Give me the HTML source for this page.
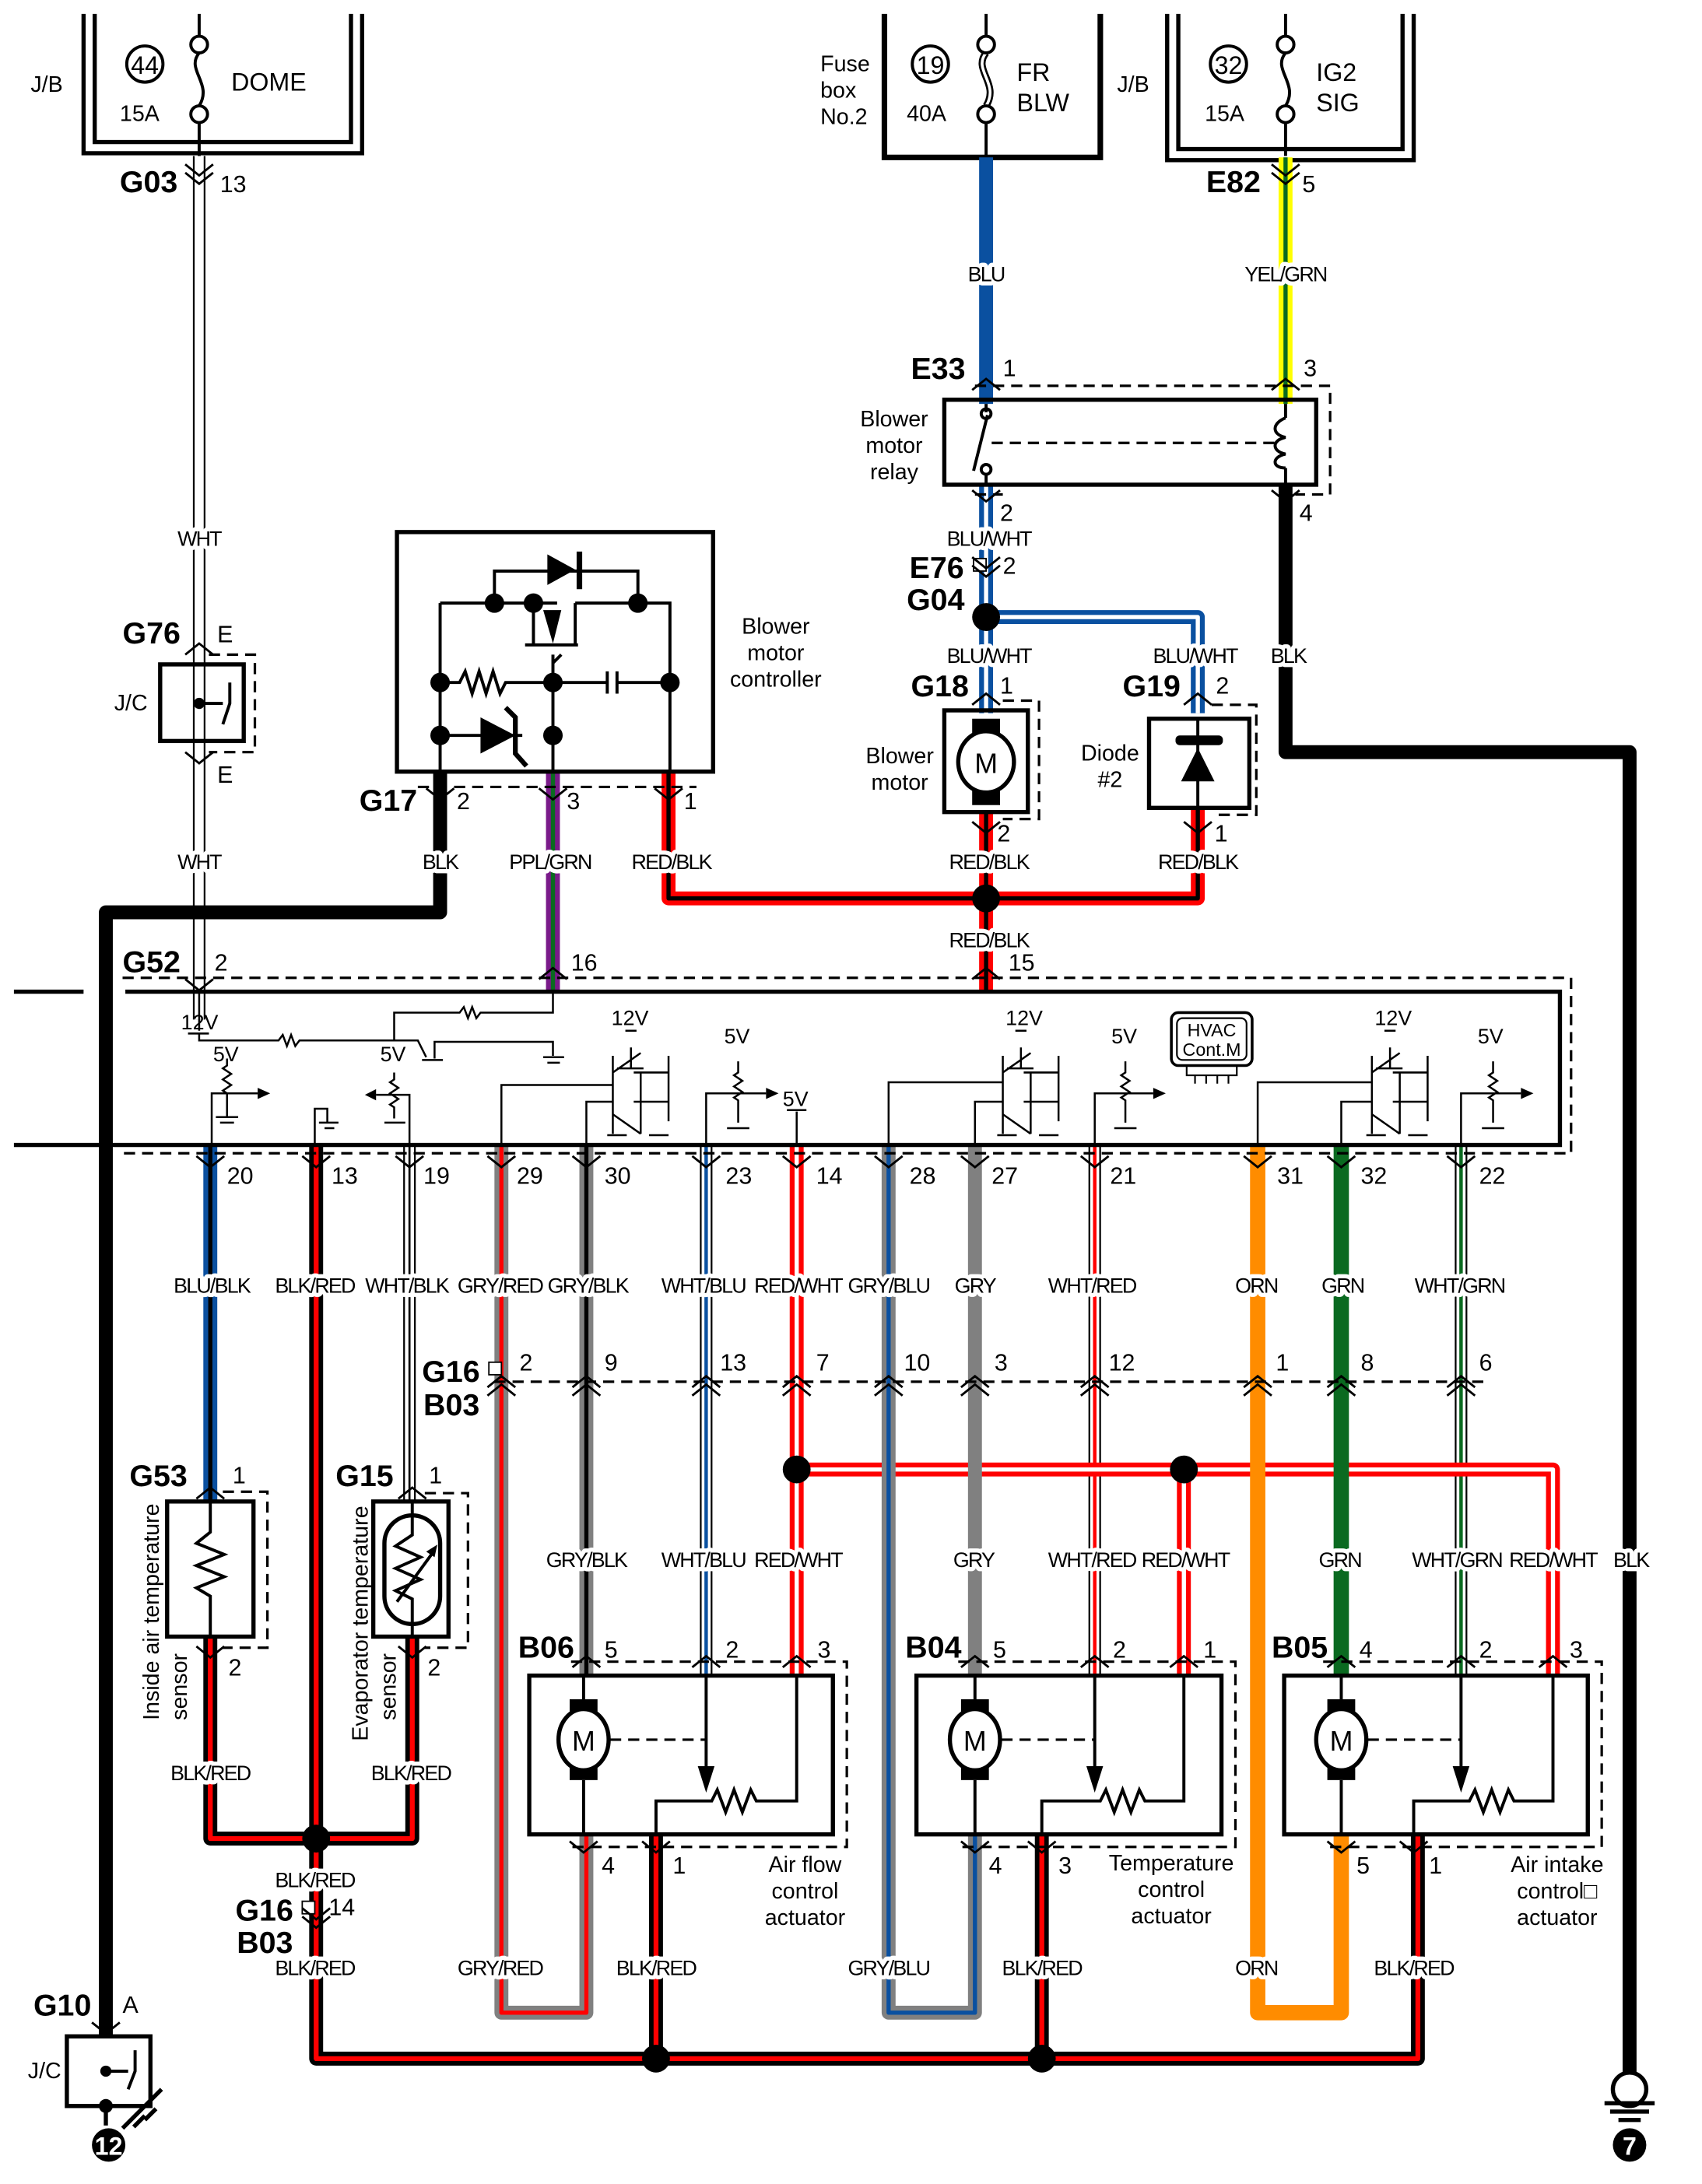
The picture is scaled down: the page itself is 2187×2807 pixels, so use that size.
<!DOCTYPE html>
<html><head><meta charset="utf-8"><style>
html,body{margin:0;padding:0;background:#fff}
svg{display:block}
text{font-family:"Liberation Sans Narrow","Liberation Sans",sans-serif;fill:#000}
.l{font-size:15px;letter-spacing:-1px;text-anchor:middle;paint-order:stroke;stroke:#fff;stroke-width:6px;stroke-linejoin:round}
.n{font-size:17px}
.b{font-family:"Liberation Sans",sans-serif;font-weight:bold;font-size:22px}
.s{font-family:"Liberation Sans",sans-serif;font-size:16px}
.k{fill:none;stroke:#000;stroke-width:2.2}
.d{fill:none;stroke:#000;stroke-width:1.8;stroke-dasharray:8 5}
.box{fill:none;stroke:#000;stroke-width:3}
</style></head><body>
<svg width="2187" height="2807" viewBox="0 0 1222 1568" preserveAspectRatio="none" xmlns="http://www.w3.org/2000/svg">
<rect width="1222" height="1568" fill="#fff"/>

<path class="box" d="M60 10V110H260V10M68 10V102H252V10"/>
<path class="box" d="M635 10V113H790V10" style="stroke-width:4"/>
<path class="box" d="M838 10V115H1015V10M846 10V107H1007V10"/>
<text class="s" x="22" y="66">J/B</text>
<circle cx="104" cy="46" r="13" class="k"/><text class="s" x="104" y="53" text-anchor="middle" style="font-size:18px">44</text>
<text class="s" x="86" y="87">15A</text><text class="s" x="166" y="65" style="font-size:18px">DOME</text>
<path class="k" d="M143 10V26M143 38C133 50 153 60 143 76M143 88V115"/><circle cx="143" cy="32" r="6" class="k"/><circle cx="143" cy="82" r="6" class="k"/>
<text class="s" x="589" y="51">Fuse</text><text class="s" x="589" y="70">box</text><text class="s" x="589" y="89">No.2</text>
<circle cx="668" cy="46" r="13" class="k"/><text class="s" x="668" y="53" text-anchor="middle" style="font-size:18px">19</text>
<text class="s" x="651" y="87">40A</text><text class="s" x="730" y="58" style="font-size:18px">FR</text><text class="s" x="730" y="80" style="font-size:18px">BLW</text>
<path class="k" d="M708 10V26M708 88V115"/><path d="M708 38C698 50 718 60 708 76" fill="none" stroke="#000" stroke-width="5"/><path d="M708 38C698 50 718 60 708 76" fill="none" stroke="#fff" stroke-width="2"/>
<circle cx="708" cy="32" r="6" class="k" fill="#fff"/><circle cx="708" cy="82" r="6" class="k" fill="#fff"/>
<text class="s" x="802" y="66">J/B</text>
<circle cx="882" cy="46" r="13" class="k"/><text class="s" x="882" y="53" text-anchor="middle" style="font-size:18px">32</text>
<text class="s" x="865" y="87">15A</text><text class="s" x="945" y="58" style="font-size:18px">IG2</text><text class="s" x="945" y="80" style="font-size:18px">SIG</text>
<path class="k" d="M923 10V26M923 38C913 50 933 60 923 76M923 88V112"/><circle cx="923" cy="32" r="6" class="k"/><circle cx="923" cy="82" r="6" class="k"/>

<g fill="none" stroke-linejoin="round">
<path d="M143 112V732" stroke="#000" stroke-width="9"/><path d="M143 112V732" stroke="#fff" stroke-width="6.5"/>
<path d="M708 113V290" stroke="#0a50a0" stroke-width="10"/>
<path d="M923 113V290" stroke="#ffff00" stroke-width="10"/><path d="M923 113V290" stroke="#0a6a20" stroke-width="3"/>
<path d="M923 348V540H1170V1495" stroke="#000" stroke-width="10"/>
<path d="M708 348V512M708 443H860V512" stroke="#0a50a0" stroke-width="10"/><path d="M708 348V512M708 443H860V512" stroke="#fff" stroke-width="3"/>
<path d="M708 583V712M860 580V645H480V555" stroke="#f00" stroke-width="10"/><path d="M708 583V712M860 580V645H480V555" stroke="#000" stroke-width="3"/>
<path d="M316 555V655H76V1462" stroke="#000" stroke-width="10"/>
<path d="M397 555V712" stroke="#7a1a8a" stroke-width="10"/><path d="M397 555V712" stroke="#0a6a20" stroke-width="3"/>

<path d="M151 822V1078" stroke="#0a50a0" stroke-width="10"/><path d="M151 822V1078" stroke="#000" stroke-width="3"/>
<path d="M151 1175V1320H296V1175M227 822V1478H1018V1317M471 1317V1478M748 1317V1478" stroke="#000" stroke-width="10"/>
<path d="M151 1175V1320H296V1175M227 822V1478H1018V1317M471 1317V1478M748 1317V1478" stroke="#f00" stroke-width="3.5"/>
<path d="M294 822V1078" stroke="#000" stroke-width="9"/><path d="M294 822V1078" stroke="#fff" stroke-width="6.5"/><path d="M294 822V1078" stroke="#000" stroke-width="1.5"/>
<path d="M360 822V1445H421V1317" stroke="#808080" stroke-width="10"/><path d="M360 822V1445H421V1317" stroke="#f00" stroke-width="3"/>
<path d="M421 822V1203" stroke="#808080" stroke-width="10"/><path d="M421 822V1203" stroke="#000" stroke-width="3"/>
<path d="M507 822V1203M1049 822V1203M786 822V1203" stroke="#000" stroke-width="9"/><path d="M507 822V1203M1049 822V1203M786 822V1203" stroke="#fff" stroke-width="6.5"/>
<path d="M507 822V1203" stroke="#0a50a0" stroke-width="2.5"/><path d="M1049 822V1203" stroke="#0a6a20" stroke-width="2.5"/><path d="M786 822V1203" stroke="#f00" stroke-width="2.5"/>
<path d="M572 822V1203M572 1055H1115V1203M850 1055V1203" stroke="#f00" stroke-width="10"/><path d="M572 822V1203M572 1055H1115V1203M850 1055V1203" stroke="#fff" stroke-width="3"/>
<path d="M638 822V1445H700V1317" stroke="#808080" stroke-width="10"/><path d="M638 822V1445H700V1317" stroke="#0a50a0" stroke-width="3"/>
<path d="M700 822V1203" stroke="#808080" stroke-width="10"/>
<path d="M903 822V1445H963V1317" stroke="#ff8c00" stroke-width="11"/>
<path d="M963 822V1203" stroke="#0a6a20" stroke-width="11"/>
</g>

<g fill="#000">
<circle cx="708" cy="443" r="10"/><circle cx="708" cy="645" r="10"/>
<circle cx="572" cy="1055" r="10"/><circle cx="850" cy="1055" r="10"/>
<circle cx="227" cy="1320" r="10"/><circle cx="471" cy="1478" r="10"/><circle cx="748" cy="1478" r="10"/>
</g>

<text class="b" x="86" y="138">G03</text><text class="n" x="158" y="138">13</text>
<text class="b" x="866" y="138">E82</text><text class="n" x="935" y="138">5</text>
<text class="b" x="654" y="272">E33</text><text class="n" x="720" y="270">1</text><text class="n" x="936" y="270">3</text>
<path class="d" d="M700 277H955V355H930M700 355H720"/>
<rect x="678" y="287" width="267" height="61" class="box"/>
<text class="s" x="642" y="306" text-anchor="middle">Blower</text><text class="s" x="642" y="325" text-anchor="middle">motor</text><text class="s" x="642" y="344" text-anchor="middle">relay</text>
<path class="k" d="M708 290V296M708 340V348M709 298L699 338M923 290V300M923 336V348" />
<circle cx="708" cy="297" r="3.5" class="k" fill="#fff"/><circle cx="708" cy="337" r="3.5" class="k" fill="#fff"/>
<path class="d" d="M712 318H915"/><path class="k" d="M923 300C913 304 913 312 923 314C913 316 913 324 923 326C913 328 913 336 923 336" />
<text class="n" x="718" y="374">2</text><text class="n" x="933" y="374">4</text>
<text class="l" x="708" y="202">BLU</text><text class="l" x="923" y="202">YEL/GRN</text>
<text class="l" x="710" y="392">BLU/WHT</text>
<text class="b" x="653" y="415">E76</text><rect x="699" y="401" width="9" height="9" fill="#fff" stroke="#000"/><text class="n" x="720" y="412">2</text>
<text class="b" x="651" y="438">G04</text>
<text class="l" x="710" y="476">BLU/WHT</text><text class="l" x="858" y="476">BLU/WHT</text><text class="l" x="925" y="476">BLK</text>
<text class="b" x="654" y="500">G18</text><text class="n" x="718" y="498">1</text>
<text class="b" x="806" y="500">G19</text><text class="n" x="873" y="498">2</text>
<rect x="678" y="510" width="60" height="73" class="box"/><path class="d" d="M720 503H746V588H720"/>
<rect x="698" y="516" width="20" height="62" fill="#000"/><ellipse cx="708" cy="547" rx="20" ry="22" fill="#fff" stroke="#000" stroke-width="3"/>
<text class="s" x="708" y="555" text-anchor="middle" style="font-size:20px">M</text>
<text class="s" x="646" y="548" text-anchor="middle">Blower</text><text class="s" x="646" y="567" text-anchor="middle">motor</text>
<text class="n" x="716" y="604">2</text>
<rect x="825" y="516" width="72" height="64" class="box"/><path class="d" d="M870 506H902V585H870"/>
<path class="k" d="M860 516V580"/><rect x="844" y="528" width="34" height="7" rx="3" fill="#000"/><path d="M860 537L848 561H872Z" fill="#000"/>
<text class="s" x="797" y="546" text-anchor="middle">Diode</text><text class="s" x="797" y="565" text-anchor="middle">#2</text>
<text class="n" x="872" y="604">1</text>
<text class="l" x="710" y="624">RED/BLK</text><text class="l" x="860" y="624">RED/BLK</text>
<text class="l" x="710" y="680">RED/BLK</text>

<text class="b" x="88" y="462">G76</text><text class="n" x="156" y="461">E</text>
<rect x="115" y="477" width="60" height="55" class="box"/><path class="d" d="M150 470H183V540H150"/>
<circle cx="143" cy="505" r="4"/><path class="k" d="M143 505H160M165 490V505L160 520"/>
<text class="s" x="82" y="510">J/C</text><text class="n" x="156" y="562">E</text>
<text class="l" x="143" y="392">WHT</text><text class="l" x="143" y="624">WHT</text>

<rect x="285" y="382" width="227" height="172" class="box"/>
<text class="s" x="557" y="455" text-anchor="middle">Blower</text><text class="s" x="557" y="474" text-anchor="middle">motor</text><text class="s" x="557" y="493" text-anchor="middle">controller</text>
<g class="k">
<path d="M355 433V410H458V433M316 433H400M413 433H481V554M316 433V554M316 490H330l4-8 5 16 5-16 5 16 5-16 5 16 4-8H397M397 476V490H436M443 490H481M436 482V498M443 482V498M397 490V554M316 528H375M377 463H415M383 433V463M413 433V463M397 470V476L403 470"/>
</g>
<path d="M393 398V420L413 409Z" fill="#000"/><rect x="414" y="396" width="4" height="27" fill="#000"/>
<path d="M390 438L403 438L397 462Z" fill="#000"/>
<path d="M345 515V541L370 528Z" fill="#000"/><path d="M363 508L370 515V541L378 550" stroke="#000" stroke-width="3.5" fill="none"/>
<g fill="#000"><circle cx="355" cy="433" r="7"/><circle cx="383" cy="433" r="7"/><circle cx="458" cy="433" r="7"/><circle cx="316" cy="490" r="7"/><circle cx="397" cy="490" r="7"/><circle cx="481" cy="490" r="7"/><circle cx="316" cy="528" r="7"/><circle cx="397" cy="528" r="7"/></g>
<path class="d" d="M300 565H500"/>
<text class="b" x="258" y="582">G17</text><text class="n" x="328" y="581">2</text><text class="n" x="407" y="581">3</text><text class="n" x="491" y="581">1</text>
<text class="l" x="316" y="624">BLK</text><text class="l" x="395" y="624">PPL/GRN</text><text class="l" x="482" y="624">RED/BLK</text>

<text class="b" x="88" y="698">G52</text><text class="n" x="154" y="697">2</text><text class="n" x="410" y="697">16</text><text class="n" x="724" y="697">15</text>
<path class="d" d="M88 702H1128V828H88"/>
<path d="M10 712H60M90 712H1120V822H10" fill="none" stroke="#000" stroke-width="3"/>
<text class="n" x="130" y="739" style="font-size:15px">12V</text>
<g class="k" style="stroke-width:1.4">
<path d="M143 712V740M135 742H150M143 742V747H200l3-4 3 8 3-8 3 8 3-4H283V727H330l3-4 3 8 3-8 3 8 3-4H397V712M283 747H300l6 12M312 760V748H397V758M303 761H318M390 759H405M393 763H402"/>
<path d="M163 760V765l-3 2 6 4-6 4 6 4-6 4 3 2V790M163 790V802M155 802H171M158 806H168M163 785H185M152 822V785H163"/>
<path d="M226 822V796H235V806M229 806H243M233 810H240"/>
<path d="M283 770V775l-3 2 6 4-6 4 6 4-6 4 3 2V803M283 786H270M294 822V786H283M276 806H291"/>
<path d="M360 822V779H440M421 822V791H440M440 758V814M440 770L460 756M440 800L460 814M460 770V814M455 770H480M480 758V770M455 791H480M480 770V805M443 767H462M453 752V767M449 740H457M436 815H450M466 815H480"/>
<path d="M530 762V770l-3 2 6 4-6 4 6 4-6 4 3 2V806M507 822V785H550M522 810H538M572 822V798M565 797H579"/>
<path d="M638 822V777H720M700 822V791H720M720 758V814M720 770L740 756M720 800L740 814M740 770V814M735 770H760M760 758V770M735 791H760M760 770V805M723 767H742M733 752V767M729 740H737M716 815H730M746 815H760"/>
<path d="M808 762V770l-3 2 6 4-6 4 6 4-6 4 3 2V806M786 822V785H828M800 810H816"/>
<path d="M903 822V777H985M963 822V791H985M985 758V814M985 770L1005 756M985 800L1005 814M1005 770V814M1000 770H1025M1025 758V770M1000 791H1025M1025 770V805M988 767H1007M998 752V767M994 740H1002M981 815H995M1011 815H1025"/>
<path d="M1072 762V770l-3 2 6 4-6 4 6 4-6 4 3 2V806M1049 822V785H1092M1064 810H1080"/>
</g>
<path d="M185 781L194 785L185 789Z M270 782L262 786L270 790Z M550 781L559 785L550 789Z M828 781L837 785L828 789Z M1092 781L1101 785L1092 789Z"/>
<g style="font-size:15px"><text x="153" y="762">5V</text><text x="273" y="762">5V</text><text x="439" y="736">12V</text><text x="520" y="749">5V</text><text x="562" y="794">5V</text><text x="722" y="736">12V</text><text x="798" y="749">5V</text><text x="987" y="736">12V</text><text x="1061" y="749">5V</text></g>
<rect x="841" y="727" width="58" height="38" rx="5" fill="#fff" stroke="#000" stroke-width="2"/><rect x="845" y="731" width="50" height="30" rx="4" fill="none" stroke="#000" stroke-width="1.2"/>
<text x="870" y="744" text-anchor="middle" style="font-size:13px">HVAC</text><text x="870" y="758" text-anchor="middle" style="font-size:13px">Cont.M</text>
<path class="k" style="stroke-width:1.2" d="M852 765V772H888V765M858 772V778M866 772V778M874 772V778M882 772V778"/>

<g class="n"><text x="163" y="850">20</text><text x="238" y="850">13</text><text x="304" y="850">19</text><text x="371" y="850">29</text><text x="434" y="850">30</text><text x="521" y="850">23</text><text x="586" y="850">14</text><text x="653" y="850">28</text><text x="712" y="850">27</text><text x="797" y="850">21</text><text x="917" y="850">31</text><text x="977" y="850">32</text><text x="1062" y="850">22</text></g>
<g class="l"><text x="152" y="928">BLU/BLK</text><text x="226" y="928">BLK/RED</text><text x="292" y="928">WHT/BLK</text><text x="359" y="928">GRY/RED</text><text x="422" y="928">GRY/BLK</text><text x="505" y="928">WHT/BLU</text><text x="573" y="928">RED/WHT</text><text x="638" y="928">GRY/BLU</text><text x="700" y="928">GRY</text><text x="784" y="928">WHT/RED</text><text x="902" y="928">ORN</text><text x="964" y="928">GRN</text><text x="1048" y="928">WHT/GRN</text></g>

<path class="d" d="M355 992H1065"/>
<text class="b" x="303" y="992">G16</text><rect x="351" y="978" width="9" height="9" fill="#fff" stroke="#000"/><text class="b" x="304" y="1016">B03</text>
<g class="n"><text x="373" y="984">2</text><text x="434" y="984">9</text><text x="517" y="984">13</text><text x="586" y="984">7</text><text x="649" y="984">10</text><text x="714" y="984">3</text><text x="796" y="984">12</text><text x="916" y="984">1</text><text x="977" y="984">8</text><text x="1062" y="984">6</text></g>

<text class="b" x="93" y="1067">G53</text><text class="n" x="167" y="1065">1</text>
<rect x="120" y="1078" width="62" height="97" class="box"/><path class="d" d="M160 1071H192V1183H160"/>
<path class="k" d="M151 1078V1100l-10 8 20 8-20 8 20 8-20 8 10 6V1175"/>
<text class="s" transform="translate(114 1235) rotate(-90)">Inside air temperature</text><text class="s" transform="translate(134 1235) rotate(-90)" >sensor</text>
<text class="n" x="164" y="1203">2</text><text class="l" x="151" y="1278">BLK/RED</text>
<text class="b" x="241" y="1067">G15</text><text class="n" x="308" y="1065">1</text>
<rect x="268" y="1078" width="54" height="97" class="box"/><path class="d" d="M305 1072H336V1183H305"/>
<rect x="276" y="1088" width="40" height="78" rx="20" fill="none" stroke="#000" stroke-width="3"/>
<path class="k" d="M296 1078V1102l-12 8 18 8-18 8 18 8-18 8 12 6V1175M285 1150L312 1113"/><path d="M314 1109L306 1114L312 1118Z"/>
<text class="s" transform="translate(264 1250) rotate(-90)">Evaporator temperature</text><text class="s" transform="translate(284 1235) rotate(-90)">sensor</text>
<text class="n" x="307" y="1203">2</text><text class="l" x="295" y="1278">BLK/RED</text>
<text class="l" x="226" y="1355">BLK/RED</text>
<text class="b" x="169" y="1379">G16</text><rect x="217" y="1365" width="9" height="9" fill="#fff" stroke="#000"/><text class="n" x="236" y="1375">14</text>
<text class="b" x="170" y="1402">B03</text><text class="l" x="226" y="1418">BLK/RED</text>

<g class="l"><text x="421" y="1125">GRY/BLK</text><text x="505" y="1125">WHT/BLU</text><text x="573" y="1125">RED/WHT</text><text x="699" y="1125">GRY</text><text x="784" y="1125">WHT/RED</text><text x="851" y="1125">RED/WHT</text><text x="962" y="1125">GRN</text><text x="1046" y="1125">WHT/GRN</text><text x="1115" y="1125">RED/WHT</text><text x="1171" y="1125">BLK</text></g>

<g>
<text class="b" x="372" y="1190">B06</text><text class="n" x="434" y="1190">5</text><text class="n" x="521" y="1190">2</text><text class="n" x="587" y="1190">3</text>
<path class="d" d="M410 1193H608V1326H410"/><rect x="380" y="1203" width="218" height="114" class="box"/>
<rect x="409" y="1220" width="20" height="58" fill="#000"/><ellipse cx="419" cy="1249" rx="18" ry="22" fill="#fff" stroke="#000" stroke-width="3"/><text class="s" x="419" y="1257" text-anchor="middle" style="font-size:20px">M</text>
<path class="k" d="M419 1203V1220M419 1278V1317M507 1203V1270M572 1203V1293H543l-4-8-6 16-6-16-6 16-6-16-4 8H471V1317"/><path class="d" d="M438 1249H507"/><path d="M501 1268H513L507 1287Z"/>
<text class="n" x="432" y="1345">4</text><text class="n" x="483" y="1345">1</text>
<text class="s" x="578" y="1344" text-anchor="middle">Air flow</text><text class="s" x="578" y="1363" text-anchor="middle">control</text><text class="s" x="578" y="1382" text-anchor="middle">actuator</text>
</g>
<g>
<text class="b" x="650" y="1190">B04</text><text class="n" x="713" y="1190">5</text><text class="n" x="799" y="1190">2</text><text class="n" x="864" y="1190">1</text>
<path class="d" d="M688 1193H887V1326H688"/><rect x="658" y="1203" width="219" height="114" class="box"/>
<rect x="690" y="1220" width="20" height="58" fill="#000"/><ellipse cx="700" cy="1249" rx="18" ry="22" fill="#fff" stroke="#000" stroke-width="3"/><text class="s" x="700" y="1257" text-anchor="middle" style="font-size:20px">M</text>
<path class="k" d="M700 1203V1220M700 1278V1317M786 1203V1270M850 1203V1293H822l-4-8-6 16-6-16-6 16-6-16-4 8H748V1317"/><path class="d" d="M719 1249H786"/><path d="M780 1268H792L786 1287Z"/>
<text class="n" x="710" y="1345">4</text><text class="n" x="760" y="1345">3</text>
<text class="s" x="841" y="1343" text-anchor="middle">Temperature</text><text class="s" x="841" y="1362" text-anchor="middle">control</text><text class="s" x="841" y="1381" text-anchor="middle">actuator</text>
</g>
<g>
<text class="b" x="913" y="1190">B05</text><text class="n" x="976" y="1190">4</text><text class="n" x="1062" y="1190">2</text><text class="n" x="1127" y="1190">3</text>
<path class="d" d="M950 1193H1150V1326H950"/><rect x="922" y="1203" width="218" height="114" class="box"/>
<rect x="953" y="1220" width="20" height="58" fill="#000"/><ellipse cx="963" cy="1249" rx="18" ry="22" fill="#fff" stroke="#000" stroke-width="3"/><text class="s" x="963" y="1257" text-anchor="middle" style="font-size:20px">M</text>
<path class="k" d="M963 1203V1220M963 1278V1317M1049 1203V1270M1115 1203V1293H1087l-4-8-6 16-6-16-6 16-6-16-4 8H1015V1317"/><path class="d" d="M982 1249H1049"/><path d="M1043 1268H1055L1049 1287Z"/>
<text class="n" x="974" y="1345">5</text><text class="n" x="1026" y="1345">1</text>
<text class="s" x="1118" y="1344" text-anchor="middle">Air intake</text><text class="s" x="1118" y="1363" text-anchor="middle">control□</text><text class="s" x="1118" y="1382" text-anchor="middle">actuator</text>
</g>
<g class="l"><text x="359" y="1418">GRY/RED</text><text x="471" y="1418">BLK/RED</text><text x="638" y="1418">GRY/BLU</text><text x="748" y="1418">BLK/RED</text><text x="902" y="1418">ORN</text><text x="1015" y="1418">BLK/RED</text></g>

<text class="b" x="24" y="1447">G10</text><text class="n" x="88" y="1445">A</text>
<rect x="48" y="1462" width="60" height="50" class="box"/><circle cx="76" cy="1487" r="4"/><path class="k" d="M76 1487H92M97 1472V1487L92 1500"/>
<text class="s" x="20" y="1492">J/C</text>
<path d="M76 1512V1526" stroke="#000" stroke-width="3"/><circle cx="76" cy="1512" r="5"/>
<path class="k" d="M88 1528L116 1500M96 1527l8-8M104 1522l8-8" style="stroke-width:3"/>
<circle cx="78" cy="1540" r="12" fill="#000"/><text x="78" y="1547" text-anchor="middle" style="font-size:18px;font-weight:bold;fill:#fff;font-family:'Liberation Sans'">12</text>
<circle cx="1170" cy="1500" r="12" fill="#fff" stroke="#000" stroke-width="3"/><path class="k" d="M1152 1510H1188M1156 1516H1184M1162 1522H1178" style="stroke-width:3"/>
<circle cx="1170" cy="1540" r="12" fill="#000"/><text x="1170" y="1547" text-anchor="middle" style="font-size:18px;font-weight:bold;fill:#fff;font-family:'Liberation Sans'">7</text>

<g class="k" style="stroke-width:1.6">
<path d="M133 118l10 8 10-8M133 124l10 8 10-8M913 118l10 8 10-8M913 124l10 8 10-8M698 280l10-8 10 8M913 280l10-8 10 8M698 352l10 8 10-8M913 352l10 8 10-8M698 400l10 8 10-8M698 406l10 8 10-8M698 506l10-8 10 8M850 506l10-8 10 8M698 590l10 8 10-8M850 590l10 8 10-8M306 566l10 8 10-8M387 566l10 8 10-8M470 566l10 8 10-8M133 703l10 8 10-8M387 703l10-8 10 8M698 703l10-8 10 8M133 470l10-8 10 8M133 540l10 8 10-8"/>
<path d="M141 830l10 8 10-8M217 830l10 8 10-8M284 830l10 8 10-8M350 830l10 8 10-8M411 830l10 8 10-8M497 830l10 8 10-8M562 830l10 8 10-8M628 830l10 8 10-8M690 830l10 8 10-8M776 830l10 8 10-8M893 830l10 8 10-8M953 830l10 8 10-8M1039 830l10 8 10-8"/>
<path d="M350 996l10-8 10 8M350 1002l10-8 10 8M411 996l10-8 10 8M411 1002l10-8 10 8M497 996l10-8 10 8M497 1002l10-8 10 8M562 996l10-8 10 8M562 1002l10-8 10 8M628 996l10-8 10 8M628 1002l10-8 10 8M690 996l10-8 10 8M690 1002l10-8 10 8M776 996l10-8 10 8M776 1002l10-8 10 8M893 996l10-8 10 8M893 1002l10-8 10 8M953 996l10-8 10 8M953 1002l10-8 10 8M1039 996l10-8 10 8M1039 1002l10-8 10 8"/>
<path d="M141 1076l10-8 10 8M286 1076l10-8 10 8M141 1182l10 8 10-8M286 1182l10 8 10-8M217 1370l10 8 10-8M217 1376l10 8 10-8"/>
<path d="M411 1197l10-8 10 8M497 1197l10-8 10 8M562 1197l10-8 10 8M690 1197l10-8 10 8M776 1197l10-8 10 8M840 1197l10-8 10 8M953 1197l10-8 10 8M1039 1197l10-8 10 8M1105 1197l10-8 10 8"/>
<path d="M409 1322l10 8 10-8M461 1322l10 8 10-8M690 1322l10 8 10-8M738 1322l10 8 10-8M953 1322l10 8 10-8M1005 1322l10 8 10-8M66 1452l10 8 10-8"/>
</g>
</svg>
</body></html>
